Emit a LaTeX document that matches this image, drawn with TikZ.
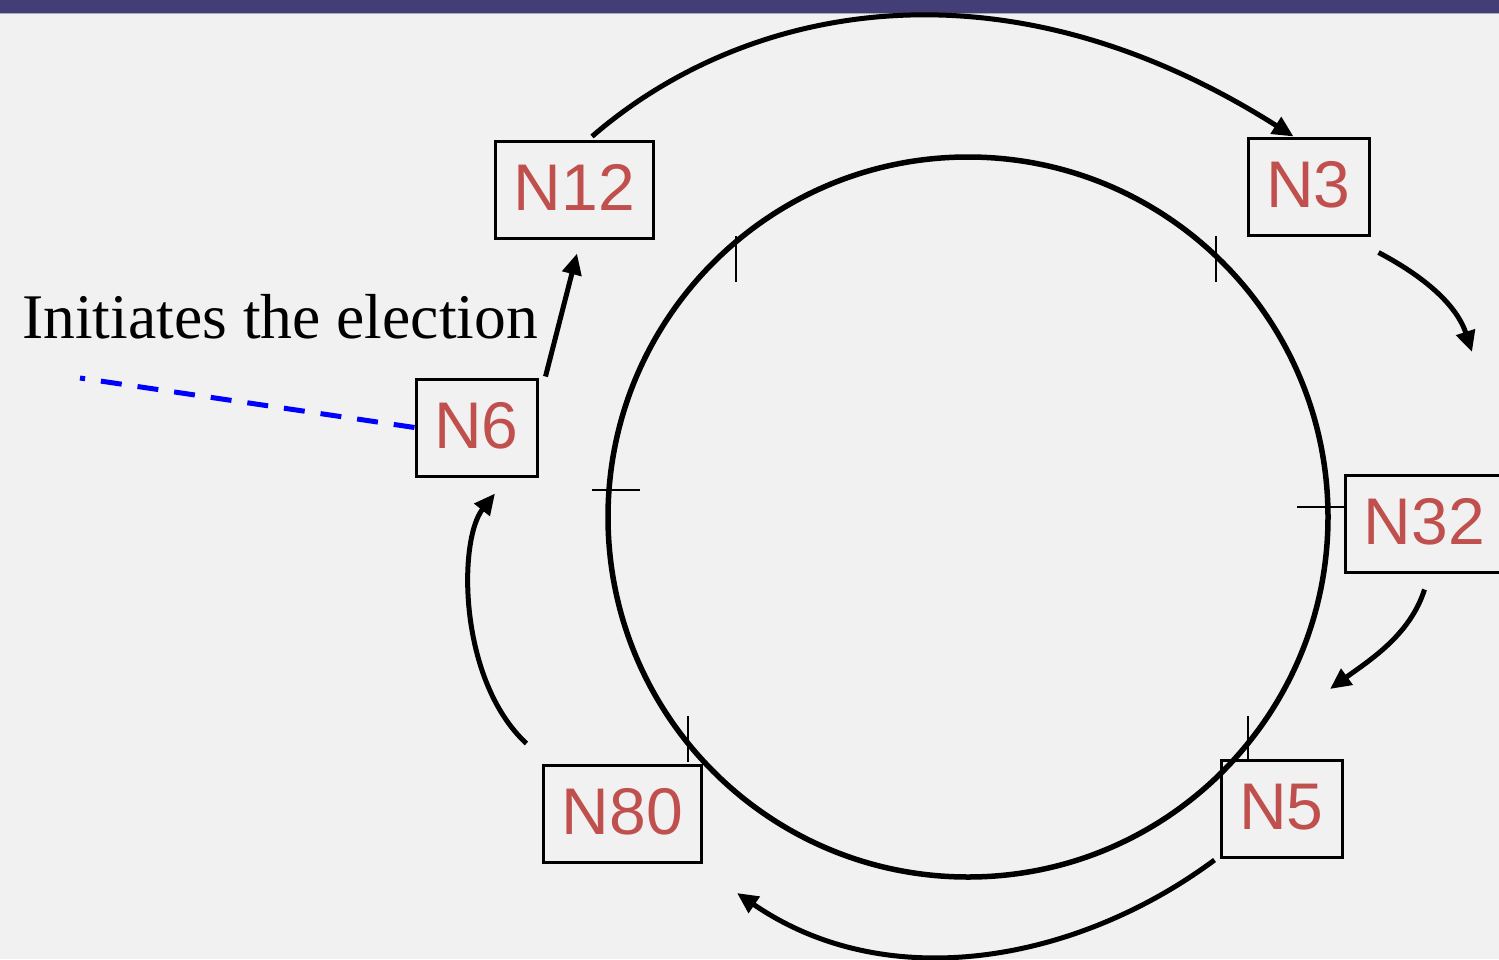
\documentclass[tikz,border=0pt]{standalone}
\usepackage{fontspec}
\setmainfont{Liberation Serif}
\newfontfamily\boxfont{Liberation Sans}
\usetikzlibrary{arrows.meta}
\definecolor{slidebg}{HTML}{F1F1F1}
\definecolor{bandblue}{HTML}{433F76}
\definecolor{idred}{HTML}{C0504D}

\begin{document}
\begin{tikzpicture}[x=1pt,y=-1pt,
  peer/.style={draw,line width=3pt,minimum width=121pt,minimum height=97pt,inner xsep=18pt,
    text height=47pt,text depth=6pt,font=\boxfont\fontsize{66}{70}\selectfont,text=idred},
  wide/.style={minimum width=157pt},
  flow/.style={line width=5pt,-{Triangle[length=21pt,width=19pt]}},
  tick/.style={line width=2.5pt}]
  \useasboundingbox (0,0) rectangle (1499,959);
  % slide background and title band
  \fill[slidebg] (0,0) rectangle (1499,959);
  \fill[bandblue] (0,0) rectangle (1499,13);
  \draw[bandblue!45!white,line width=1pt] (0,13.5) -- (1499,13.5);
  % the ring with its ticks
  \draw[line width=5.5pt] (968,517) circle[radius=360];
  \foreach \tx/\ty in {736/259,1216/259,688/739,1248/739}
    \draw[tick] (\tx,\ty-23) -- (\tx,\ty+23);
  \draw[tick] (592,490) -- (640,490);
  \draw[tick] (1297,507) -- (1345,507);
  % processes
  \node[peer,wide] (n12) at (574.5,189.5) {N12};
  \node[peer] (n3) at (1308.5,186.5) {N3};
  \node[peer,wide] (n32) at (1424.5,523.5) {N32};
  \node[peer] (n5) at (1281.5,809) {N5};
  \node[peer,wide] (n80) at (622.5,813.5) {N80};
  \node[peer] (n6) at (476.5,427.5) {N6};
  \node[anchor=base west,inner sep=0pt,font=\fontsize{63.6}{70}\selectfont] (note) at (22,338) {Initiates the election};
  % free ends
  \coordinate (to32) at (1472,352);
  \coordinate (to5) at (1330,689);
  \coordinate (to80) at (737,893);
  \coordinate (far) at (80,378);
  % election message round the ring
  \draw[flow] ([shift={(17.5,-3)}]n12.north) .. controls (740,8) and (996,-52) .. ([xshift=47pt]n3.north west);
  \draw[flow] ([shift={(8,16)}]n3.south east) .. controls (1440,285) and (1460,315) .. (to32);
  \draw[flow] ([shift={(0,16)}]n32.south) .. controls (1410,635) and (1370,660) .. (to5);
  \draw[flow] ([shift={(-5,1)}]n5.south west) .. controls (1080,960) and (890,998) .. (to80);
  \draw[flow] ([shift={(-16,-20)}]n80.north west) .. controls (458,680) and (458,540) .. ([shift={(18.5,16)}]n6.south);
  \draw[flow] ([shift={(7,-1)}]n6.north east) -- ([shift={(2.5,14)}]n12.south);
  % pointer to the initiator
  \draw[blue,line width=5pt,dash pattern=on 21pt off 16pt] (n6.west) -- (far);
\end{tikzpicture}
\end{document}
